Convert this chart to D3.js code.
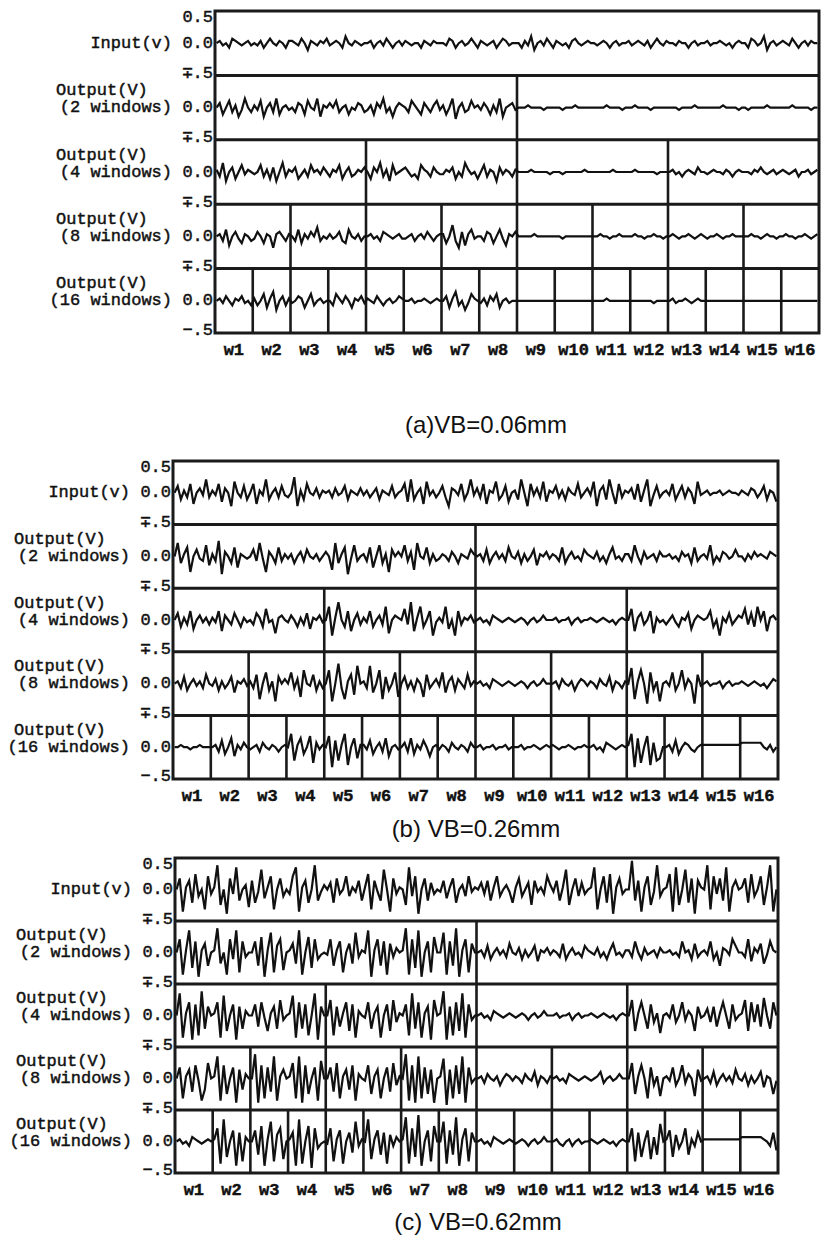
<!DOCTYPE html>
<html>
<head>
<meta charset="utf-8">
<script src="https://cdn.jsdelivr.net/npm/d3@7"></script>
<style>
body { margin: 0; background: #fff; }
svg { display: block; }
.lab { font-family: "Liberation Mono", monospace; font-size: 17px; fill: #111; stroke: #111; stroke-width: 0.45; }
.cap { font-family: "Liberation Sans", Arial, sans-serif; font-size: 24px; fill: #111; }
</style>
</head>
<body>
<svg id="chart" width="821" height="1238"></svg>
<script>
// window labels on the x axis
var windowLabels = ["w1","w2","w3","w4","w5","w6","w7","w8","w9","w10","w11","w12","w13","w14","w15","w16"];
// number of windows in each row (1 = input)
var rowWindows = [1, 2, 4, 8, 16];
var rowNames = ["Input(v)", "(2 windows)", "(4 windows)", "(8 windows)", "(16 windows)"];
var rowUnit = "Output(V)";
var tickTop = "0.5", tickMid = "∓.5", tickZero = "0.0", tickBottom = "−.5";
var captions = ["(a)VB=0.06mm", "(b) VB=0.26mm", "(c) VB=0.62mm"];

// samples: one char per sample, 'm' = 0 V, each letter step = 0.035 V, 12 samples per window
var panelA = [
  "mnlmkonmlmnl mlnkmomlnmkn nmlomjnmlnmo lmnmkpmlnmlm mnkmnlomkmnl nmlmmknmlnmm mlonkmnlmomk nmlmnkmonlmm mknlpjmnlomk nmlmknomlmnm mlmnmkmnlmmn lmnmlnkmomln mmlnmmkmnlmm nlmmnmlmkmnm mkonlmpjmnlm nmlomkmnlnmm",
  "mojmpknilqmk nlpimokqjmnl mkonjpmlqinm ompkmnjmlonk lnjomqkmimon mkpnljomknpl njmqhmoklpmn lomjnkqimnol mmmnmmmmlmmm mmlmmmnmmmmm mmmmnmmmmlmm mnmmmmlmmmmm mmmlmmmmnmmm mmmmmnmmmmlm mlmmmmmnmmmm mmmnmmmmmlmm",
  "nkqimojmplnm lmpknjoimqkn mojlnkpmnlom knmpjmoklnmo mjomqkniplmn omkljpnmkoml lnmojmkqnlmj mpknmiolnmkn mmmmnmmmmmlm mmlmmmmmmnmm mmmmmmnmmmmm mnmmmmmmlmmm mnlmkmnmlomm lmnmmlnmkmnm mmlnmomlmnlm nmlmnkmmnlmn",
  "mnkpimoljnmk lomjnmhnomkn mkpjnlomqkml nlmokjpmlnkm mnlmkonmlmnl lmnkmnlomkmn njmrkhoinplm mkonjmplinmo mmmmmnmmmmmm mmlmmmmmmmmm mmnmmlmmnmmm mnmmlmmnmmlm mnmlmmnmlmnm lmmnmlmmnmmm mmnmmlmnmmlm mnmmlmmnmlmn",
  "mnlomknmolmk nkmpjnqimokn lmonjmpkmnlm mkpnlomjnmol nmlomkmnlmon mmnlmmnmlmnm mojnqkmilpnm lnkompjmnlmm mmmmmmmmmmmm mmmmmmmmmmmm mmmmnmmmmmmm mmmmmmmlmmmm mnlmmnmlmnmm mmmmmmmmmmmm mmmmmmmmmmmm mmmmmmmmmmmm"
];
var panelB = [
  "mpjnkqhmolsk nlqiomgrmkpj mqhnlsjmokpl kmtgnjqmlokn mnkolmpjnmlo lnkmojnmlpkm nqisjmohrlnk mpkgonlqjmsl okqhnmrjlpim njsmgqlokrin mpknjomlqkmo lrgnpjsmhqkn mojqinsglpkm nlqjmpkomhrl mnlmmnlmnmml nmlonkmpjnmi",
  "msjnqfmplkri nkteomjqhnml mpkslfomjqkn lnjmokpmlnkm omgsjnqelrkm nkqhmrjnfpmo mrkogsmlqjnk lnmkomjnmlpn mnkpjmolnkqm lojnkmpinmol nmkqjmolmkpn mlokmjnqlmkn nkrmjolmnkom mnlmkomnjqkm nlrjmkonlmpm mknlomnmlonm",
  "mpjnkqimolnk nlqhomkpmjnl mkpnjrlmgnom lomjnkpinmol msfnumjqhmpk nlqjmoksgmon mrkuhnsjmqfl nlsimfqknmol mnlmkonmlmnm lmnmkmnlmomm mnlmmnkmnlmm nmlmnmlmkmnm mrhnpkmqgnlm kmoljnmpimon mnqjmfnlpkmo nrkpjsmqhnom",
  "mnkpjmolnkqm lojnkmpinmol nkqfmrjnepmo mrkogsmlqjnk msemvkfnqhum nkuimsfpjmrg mpknjomgqkmo lrinpjomkqln mnlmkonmlmnm lmnmkmnlmomm mnkomlnjmonl nmkomlpjnmkn mtfnsmdrjnem nlrjmskomdql mnlmmnkmnlmm nmlmnmlmkmon",
  "mmnmmlmmnmmm mnkpjmqinlom lmnkomlnmkmn msgnqjmrfoln mrdpgnsemqhn nlpjmokqimnl mokqjnlpmimn lnmkomlnmkom mnlmmnlmmnlm mmnlmmnmlmnm nmlmmnmlmmnm mnlmkonmlmnm nsdqfmreoghm mnkpjmonlkmn nnnnnnnnnnnn ooooooomlnkm"
];
var panelC = [
  "mrcnqgtjmdsk nxfmbrkwhmoe qglvinsdmrjm kswcnqgmxhlo mpgrkmsjnlqh ntdqlhvmcrkn mfwjsbmrhpkm lqinrgmojsln mpkqhnsjmolg nrjmpfqlnkso lqhnvfmrjpkm nwdmsgtbnrkm mzhqcnsflxjm ntcwfmvgrbqn mxdskrhwcnqm nrgtjmsfnxcm",
  "mscnwfrbnqgm nxhmcsjwdrkm mrgtbnvdpsem nqhwcmtfsjlm lsgnrdmqhvkn mwbnsgrcqkom nxcsfwbmrdtm mvcrgxbnsdqm mnkpjmolnkqm lojnkmpinmol nmkqjmolmkpn mlokmjnqlmkn nkrmjolmnkom mnlmkrmnjqkm nlrjmgonlspm mksiomqhlrnm",
  "mwcnsbrdxgqm nscvfmrbqgom mrhslfnqgtkm nvcsgrdmwbqm mtdqhnsfrcom lsgnqcmrftjn mrdwgscnqbtm nxbqdsfwcrkm mnlmkonmlmnm lmnmkmnlmomm mnlmmnkmnlmm nmlmnmlmkmnm mtfnsmgrjnem nlrjmskomfql mpjqhnsmgrkm ntfsjrhumgsm",
  "mrdnqgslchtm nwcsfmrbqhom mxbsdrgwcnqm ntdwbsfmrcum mrgtdnqhscom lsfnqdmrgtjn mxcsbwdrfqbm nvaqdsfwbrkm mnkomlnjmonl nmkomlpjnmkn mnlmkonmlmnm lmnpkmnlmomm mtfnsmdrjnem nlrjmskomeql mnkpjmolnkqm lojnkmpinmfl",
  "mnlmkonmlmnm nscwfmrbqdom mrgtbnvdpsem nqbwcmtasjlm lsdnrcmqhvkn mwenrgqcpkom nxcsfybmrdtm mvcrgxbnsdqm mnlmkonmlmnm lmnmkmnlmomm mnlkmnkmnlmm nmlmnmlmkmnm msdqfmreogum nrfpjmsgnkqm nnnnnnnnnnnn ooooooonmkqi"
];

var panels = [panelA, panelB, panelC];
var perWindow = 12;

// layout of each panel frame
var layout = [
  {top: 11, bottom: 333, left: 215, right: 819, capX: 486, capY: 433},
  {top: 461, bottom: 779, left: 173, right: 778, capX: 476, capY: 837},
  {top: 858, bottom: 1173, left: 175, right: 778, capX: 478, capY: 1230}
];

function decode(str) {
  return str.replace(/ /g, "").split("").map(function(c) {
    return (c.charCodeAt(0) - 109) * 0.035;
  });
}

var svg = d3.select("#chart");

panels.forEach(function(rows, p) {
  var L = layout[p];
  var g = svg.append("g");

  var x = d3.scaleLinear().domain([0, 16]).range([L.left, L.right]);
  var rowBand = d3.scaleBand().domain(d3.range(5)).range([L.top, L.bottom]).paddingInner(0);

  rows.forEach(function(str, r) {
    var vals = decode(str);
    var y = d3.scaleLinear().domain([-0.5, 0.5])
      .range([rowBand(r) + rowBand.bandwidth(), rowBand(r)]);

    // window dividers
    var n = rowWindows[r];
    var divs = d3.range(1, n).map(function(k) { return k * 16 / n; });
    g.selectAll(null).data(divs).enter().append("line")
      .attr("x1", function(d) { return x(d); })
      .attr("x2", function(d) { return x(d); })
      .attr("y1", rowBand(r))
      .attr("y2", rowBand(r) + rowBand.bandwidth())
      .attr("stroke", "#1a1a1a")
      .attr("stroke-width", 2.6);

    // signal
    var line = d3.line()
      .x(function(d, i) { return x((i + 0.5) / perWindow); })
      .y(function(d) { return y(d); });
    g.append("path")
      .datum(vals)
      .attr("d", line)
      .attr("fill", "none")
      .attr("stroke", "#111")
      .attr("stroke-width", 2.2);

    // tick label at 0
    g.append("text").attr("class", "lab")
      .attr("x", L.left - 2).attr("y", y(0))
      .attr("text-anchor", "end").attr("dominant-baseline", "central")
      .text(tickZero);

    // row names
    g.append("text").attr("class", "lab")
      .attr("x", L.left - 43).attr("y", y(0))
      .attr("text-anchor", "end").attr("dominant-baseline", "central")
      .text(rowNames[r]);
    if (r > 0) {
      g.append("text").attr("class", "lab")
        .attr("x", L.left - 159).attr("y", y(0) - 17)
        .attr("dominant-baseline", "central")
        .text(rowUnit);
    }

    // top / mid tick labels
    g.append("text").attr("class", "lab")
      .attr("x", L.left - 2)
      .attr("y", r === 0 ? y(0.5) + 6 : y(0.5) - 2)
      .attr("text-anchor", "end").attr("dominant-baseline", "central")
      .text(r === 0 ? tickTop : tickMid);
  });

  g.append("text").attr("class", "lab")
    .attr("x", L.left - 2).attr("y", L.bottom - 3)
    .attr("text-anchor", "end").attr("dominant-baseline", "central")
    .text(tickBottom);

  // row separators
  g.selectAll(null).data(d3.range(1, 5)).enter().append("line")
    .attr("x1", L.left).attr("x2", L.right)
    .attr("y1", function(d) { return rowBand(d); })
    .attr("y2", function(d) { return rowBand(d); })
    .attr("stroke", "#1a1a1a")
    .attr("stroke-width", 3);

  // frame
  g.append("rect")
    .attr("x", L.left).attr("y", L.top)
    .attr("width", L.right - L.left).attr("height", L.bottom - L.top)
    .attr("fill", "none").attr("stroke", "#1a1a1a").attr("stroke-width", 3);

  // x labels
  g.selectAll(null).data(windowLabels).enter().append("text")
    .attr("class", "lab")
    .attr("x", function(d, i) { return x(i + 0.5); })
    .attr("y", L.bottom + 17)
    .attr("text-anchor", "middle").attr("dominant-baseline", "central")
    .style("font-weight", "bold")
    .text(function(d) { return d; });

  // caption
  g.append("text").attr("class", "cap")
    .attr("x", L.capX).attr("y", L.capY)
    .attr("text-anchor", "middle")
    .text(captions[p]);
});
</script>
</body>
</html>
